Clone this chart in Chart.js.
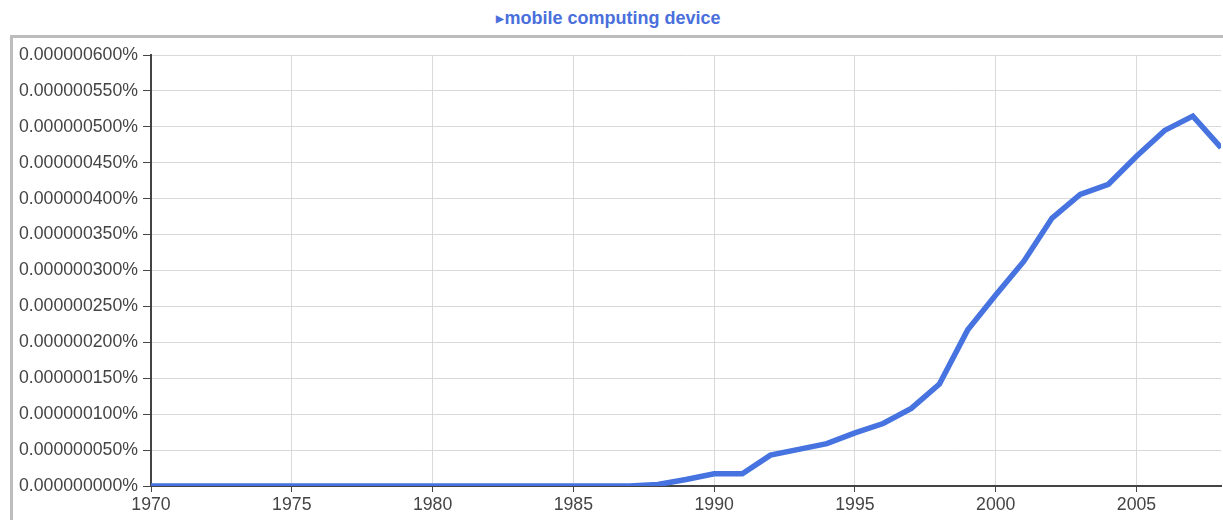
<!DOCTYPE html>
<html lang="en">
<head>
  <meta charset="UTF-8" />
  <title>mobile computing device</title>
  <script src="https://cdn.jsdelivr.net/npm/chart.js"></script>
  <style>
    html, body {
      margin: 0;
      padding: 0;
      background: #fff;
      width: 1223px;
      height: 520px;
      overflow: hidden;
      font-family: Arial, "Liberation Sans", sans-serif;
    }
    .frame {
      position: absolute;
      left: 10px;
      top: 35px;
      width: 1220px;
      height: 500px;
      border-top: 3px solid #bdbdbd;
      border-left: 3px solid #bdbdbd;
    }
    .title {
      position: absolute;
      left: 0;
      width: 1217px;
      top: 8px;
      text-align: center;
      color: #4a6fdc;
      font-weight: bold;
      font-size: 18px;
    }
    .title .arrow {
      font-size: 10px;
      vertical-align: 2px;
    }
    #chartBox {
      position: absolute;
      left: 0;
      top: 0;
      width: 1223px;
      height: 520px;
    }
  </style>
</head>
<body>
  <div class="frame"></div>
  <div class="title"><span class="arrow">&#9654;</span>mobile computing device</div>
  <div id="chartBox"><canvas id="ngramChart"></canvas></div>

  <script>
    // tahun 1970 - 2008
    const years = [];
    for (let y = 1970; y <= 2008; y++) years.push(y);

    // frekuensi dalam persen
    const frequency = [
      0, 0, 0, 0, 0, 0, 0, 0, 0, 0,          // 1970-1979
      0, 0, 0, 0, 0, 0, 0, 0,                // 1980-1987
      2e-9, 9e-9, 17e-9, 17e-9, 43e-9, 51e-9, 59e-9, 74e-9, 87e-9, 108e-9, // 1988-1997
      142e-9, 217e-9, 266e-9, 313e-9, 373e-9, 406e-9, 420e-9, 459e-9, 495e-9, 515e-9, // 1998-2007
      471e-9                                 // 2008
    ];

    const seriesLabel = 'mobile computing device';
    const axisColor = '#444';
    const gridColor = '#d9d9d9';
    const labelFont = { family: 'Arial, "Liberation Sans", sans-serif', size: 17.7 };

    const ctx = document.getElementById('ngramChart').getContext('2d');
    const ngramChart = new Chart(ctx, {
      type: 'line',
      data: {
        datasets: [{
          label: seriesLabel,
          data: years.map((yr, i) => ({ x: yr, y: frequency[i] })),
          borderColor: '#4673e0',
          borderWidth: 5.5,
          pointRadius: 0,
          tension: 0,
          fill: false
        }]
      },
      options: {
        responsive: true,
        maintainAspectRatio: false,
        animation: false,
        layout: { padding: { top: 55, right: 2, left: 0, bottom: 0 } },
        plugins: {
          legend: { display: false },
          tooltip: { enabled: false },
          title: { display: false }
        },
        scales: {
          x: {
            type: 'linear',
            min: 1970,
            max: 2008,
            afterFit: s => { s.height = 34; },
            ticks: {
              stepSize: 5,
              includeBounds: false,
              color: axisColor,
              font: labelFont,
              padding: 2,
              maxRotation: 0,
              callback: v => String(v)
            },
            grid: { color: gridColor, tickColor: axisColor, tickLength: 6, lineWidth: 1 },
            border: { color: axisColor, width: 2 }
          },
          y: {
            min: 0,
            max: 600e-9,
            afterFit: s => { s.width = 151; },
            ticks: {
              stepSize: 50e-9,
              color: axisColor,
              font: labelFont,
              padding: 5,
              callback: v => (v * 1).toFixed(9) + '%'
            },
            grid: { color: gridColor, tickColor: axisColor, tickLength: 8, lineWidth: 1 },
            border: { color: axisColor, width: 2 }
          }
        }
      }
    });
  </script>
</body>
</html>
